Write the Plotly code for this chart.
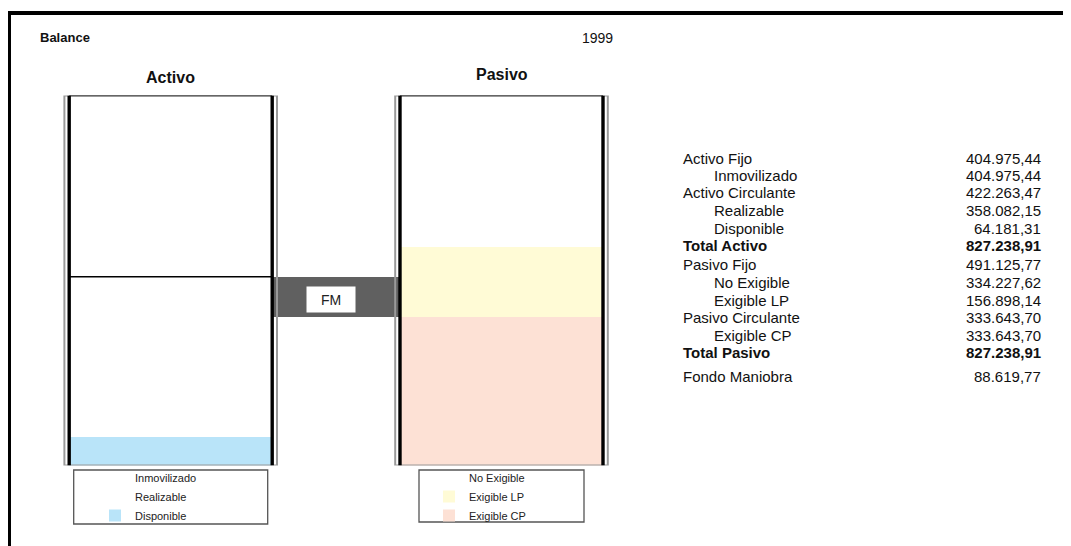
import plotly.graph_objects as go

# ---------------- data ----------------
title_left = "Balance"
year = "1999"
columns = ["Activo", "Pasivo"]

activo_labels = ["Disponible", "Realizable", "Inmovilizado"]       # bottom -> top
activo_values = [64181.31, 358082.15, 404975.44]
activo_colors = ["#B9E4F9", "#FFFFFF", "#FFFFFF"]

pasivo_labels = ["Exigible CP", "Exigible LP", "No Exigible"]      # bottom -> top
pasivo_values = [333643.70, 156898.14, 334227.62]
pasivo_colors = ["#FDE1D5", "#FFFBD6", "#FFFFFF"]

fondo_maniobra = 88619.77
fm_label = "FM"

activo_rows = ["Activo Fijo", "Inmovilizado", "Activo Circulante", "Realizable", "Disponible", "Total Activo"]
activo_row_values = [404975.44, 404975.44, 422263.47, 358082.15, 64181.31, 827238.91]
activo_row_indent = [False, True, False, True, True, False]
activo_row_bold = [False, False, False, False, False, True]

pasivo_rows = ["Pasivo Fijo", "No Exigible", "Exigible LP", "Pasivo Circulante", "Exigible CP", "Total Pasivo"]
pasivo_row_values = [491125.77, 334227.62, 156898.14, 333643.70, 333643.70, 827238.91]
pasivo_row_indent = [False, True, True, False, True, False]
pasivo_row_bold = [False, False, False, False, False, True]

fm_rows = ["Fondo Maniobra"]
fm_row_values = [88619.77]
fm_row_indent = [False]
fm_row_bold = [False]

# ---------------- layout constants ----------------
OFF = 8                          # page body margin of the html page
W, H = 1071 - OFF, 546 - OFF
FONT = "Liberation Sans, Arial, sans-serif"
PX = 1 / 330.8                   # x-axis units per pixel (column spacing = 1 unit)
col0_px = 170.7 - OFF            # pixel of column 0 centre (figure coords)
y_bottom_px, y_top_px = 465.5, 95.5
bar_w = 203 * PX
total = sum(activo_values)

def py(p):  # screen pixel from top -> paper
    return 1 - (p - OFF) / H

def px(p):  # screen pixel from left -> paper
    return (p - OFF) / W

def fmt(v):
    s = f"{v:,.2f}"
    return s.replace(",", "X").replace(".", ",").replace("X", ".")

fig = go.Figure()

for lab, val, col in zip(activo_labels, activo_values, activo_colors):
    fig.add_trace(go.Bar(x=[0], y=[val], name=lab, width=bar_w,
                         marker=dict(color=col, line=dict(width=0)),
                         legend="legend", hoverinfo="name+y"))
for lab, val, col in zip(pasivo_labels, pasivo_values, pasivo_colors):
    fig.add_trace(go.Bar(x=[1], y=[val], name=lab, width=bar_w,
                         marker=dict(color=col, line=dict(width=0)),
                         legend="legend2", hoverinfo="name+y"))

# Fondo de maniobra: floating bar between the columns
fig.add_trace(go.Bar(x=[0.5], y=[fondo_maniobra], base=[pasivo_values[0]],
                     width=127 * PX, marker=dict(color="#606060", line=dict(width=0)),
                     showlegend=False, hoverinfo="y"))

shapes = []
for c in [0, 1]:
    half_in = bar_w / 2
    shapes.append(dict(type="rect", xref="x", yref="y", x0=c - 106.3 * PX, x1=c + 106.3 * PX,
                       y0=0, y1=total, line=dict(color="#9A9A9A", width=2), layer="above"))
    for s in (-1, 1):
        shapes.append(dict(type="line", xref="x", yref="y", x0=c + s * half_in, x1=c + s * half_in,
                           y0=0, y1=total, line=dict(color="black", width=3.4), layer="above"))
    shapes.append(dict(type="line", xref="x", yref="y", x0=c - half_in, x1=c + half_in,
                       y0=total, y1=total, line=dict(color="black", width=1.5), layer="above"))
sep = activo_values[0] + activo_values[1]
shapes.append(dict(type="line", xref="x", yref="y", x0=-bar_w / 2, x1=bar_w / 2,
                   y0=sep, y1=sep, line=dict(color="black", width=1.5), layer="above"))

# legend frames
shapes.append(dict(type="rect", xref="x", yref="paper", x0=-97 * PX, x1=97 * PX,
                   y0=py(524), y1=py(470), line=dict(color="#555555", width=1.3)))
shapes.append(dict(type="rect", xref="x", yref="paper", x0=1 - 82.5 * PX, x1=1 + 82.5 * PX,
                   y0=py(522), y1=py(470), line=dict(color="#555555", width=1.3)))

# outer frame lines
shapes.append(dict(type="line", xref="paper", yref="paper", x0=0, x1=1, y0=py(13), y1=py(13),
                   line=dict(color="black", width=4)))
shapes.append(dict(type="line", xref="paper", yref="paper", x0=px(9), x1=px(9), y0=py(11), y1=0,
                   line=dict(color="black", width=4)))

ann = []
ann.append(dict(text=f"<b>{title_left}</b>", x=px(38), y=py(38), xref="paper", yref="paper",
                xanchor="left", yanchor="middle", showarrow=False, font=dict(size=13, color="#111")))
ann.append(dict(text=year, x=px(597), y=py(38), xref="paper", yref="paper",
                xanchor="center", yanchor="middle", showarrow=False, font=dict(size=14, color="#111")))
ann.append(dict(text=f"<b>{columns[0]}</b>", x=0, y=py(77), xref="x", yref="paper",
                xanchor="center", yanchor="middle", showarrow=False, font=dict(size=16, color="#111")))
ann.append(dict(text=f"<b>{columns[1]}</b>", x=1, y=py(74), xref="x", yref="paper",
                xanchor="center", yanchor="middle", showarrow=False, font=dict(size=16, color="#111")))
ann.append(dict(text=fm_label, x=0.5 - 5 * PX, y=pasivo_values[0] + fondo_maniobra / 2 - 6000,
                xref="x", yref="y", showarrow=False, bgcolor="white", width=46, height=23,
                font=dict(size=14, color="#222")))

blocks = [
    (158, activo_rows, activo_row_values, activo_row_indent, activo_row_bold),
    (265, pasivo_rows, pasivo_row_values, pasivo_row_indent, pasivo_row_bold),
    (376, fm_rows, fm_row_values, fm_row_indent, fm_row_bold),
]
STEP = 17.5
for y0, labels, vals, indents, bolds in blocks:
    for i, (lab, v, ind, b) in enumerate(zip(labels, vals, indents, bolds)):
        yy = py(y0 + i * STEP)
        t_lab = f"<b>{lab}</b>" if b else lab
        t_val = f"<b>{fmt(v)}</b>" if b else fmt(v)
        ann.append(dict(text=t_lab, x=px(712 if ind else 681), y=yy, xref="paper", yref="paper",
                        xanchor="left", yanchor="middle", showarrow=False,
                        font=dict(size=15, color="#111")))
        ann.append(dict(text=t_val, x=px(1043), y=yy, xref="paper", yref="paper",
                        xanchor="right", yanchor="middle", showarrow=False,
                        font=dict(size=15, color="#111")))

legend_common = dict(traceorder="reversed", bgcolor="rgba(0,0,0,0)", borderwidth=0,
                     font=dict(size=11, color="#222", family=FONT), yanchor="top",
                     xanchor="left", itemclick=False, itemdoubleclick=False)

fig.update_layout(
    width=W, height=H, margin=dict(l=0, r=0, t=0, b=0),
    paper_bgcolor="white", plot_bgcolor="white",
    font=dict(family=FONT, color="#111"),
    barmode="stack", bargap=0,
    xaxis=dict(range=[-col0_px * PX, (W - col0_px) * PX], domain=[0, 1], visible=False,
               fixedrange=True),
    yaxis=dict(range=[0, total], domain=[py(y_bottom_px), py(y_top_px)], visible=False,
               fixedrange=True),
    shapes=shapes, annotations=ann,
    showlegend=True,
    legend=dict(x=px(95), y=py(463), **legend_common),
    legend2=dict(x=px(429), y=py(463), **legend_common),
)

fig.write_html("out.html")
